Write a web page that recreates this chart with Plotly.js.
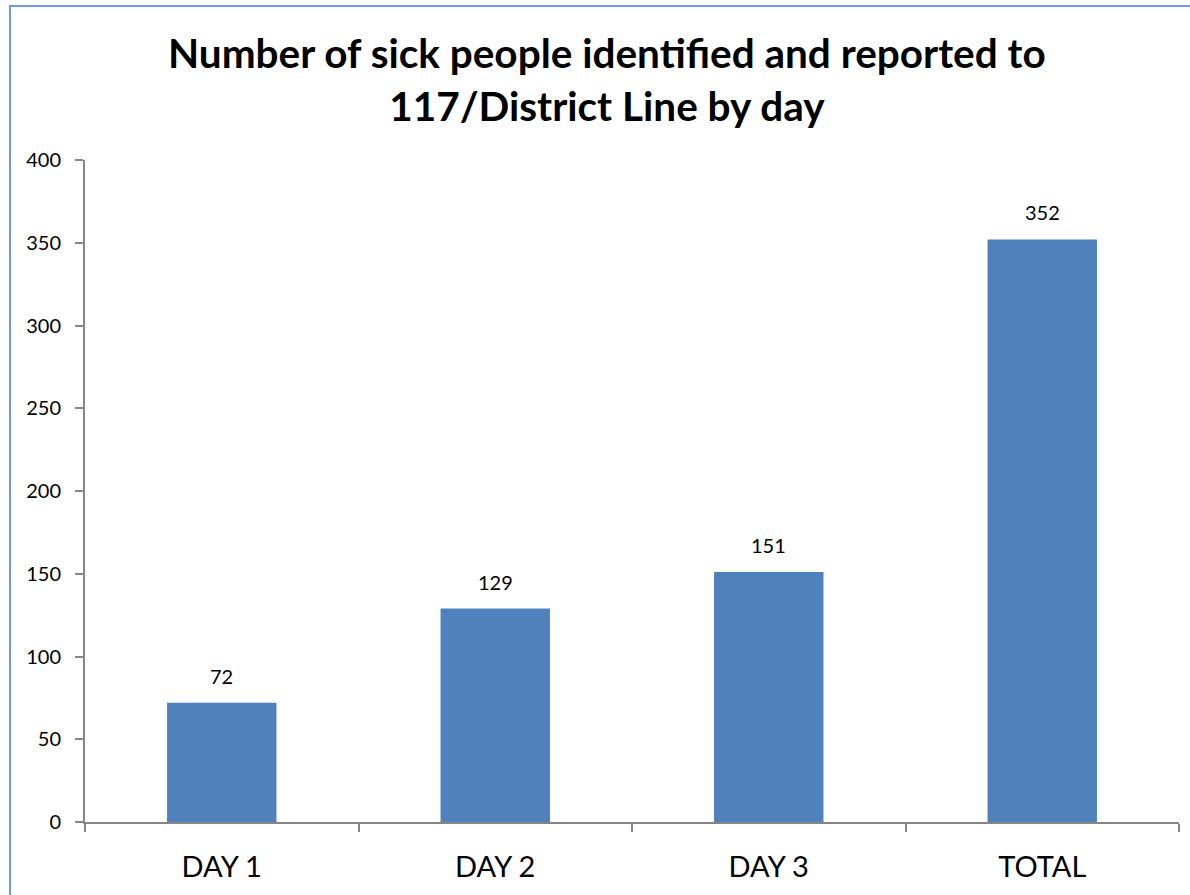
<!DOCTYPE html>
<html><head><meta charset="utf-8">
<script src="https://cdn.plot.ly/plotly-3.0.1.min.js"></script>
<style>
html,body{margin:0;padding:0;background:#fff;}
#wrap{position:relative;width:1190px;height:895px;overflow:hidden;}
#frame{position:absolute;left:9px;top:5px;width:1300px;height:1000px;border-left:2px solid #6f9bd9;border-top:2px solid #6f9bd9;pointer-events:none;}
#chart{position:absolute;left:0;top:0;width:1190px;height:895px;}
</style></head>
<body><div id="wrap"><div id="chart"></div><div id="frame"></div></div>
<script>
const categories = ["DAY 1", "DAY 2", "DAY 3", "TOTAL"];
const values = [72, 129, 151, 352];
const yTicks = [0, 50, 100, 150, 200, 250, 300, 350, 400];
const titleText = "Number of sick people identified and reported to<br>117/District Line by day";

const font = "Lato, 'Open Sans', sans-serif";
const labelAnnotations = categories.map((c, i) => ({
  x: c, y: values[i], xref: "x", yref: "y",
  text: String(values[i]), showarrow: false,
  yanchor: "bottom", yshift: 13,
  font: {family: font, size: 20, color: "#000"}
}));
const titleAnnotation = {
  xref: "paper", yref: "paper", x: 0.477, y: 1.122,
  xanchor: "center", yanchor: "middle", showarrow: false,
  text: titleText, align: "center",
  font: {family: font, size: 40.5, color: "#000", weight: "bold"}
};

Plotly.newPlot("chart", [{
  type: "bar",
  x: categories,
  y: values,
  marker: {color: "#4f81bd"},
  hoverinfo: "x+y"
}], {
  width: 1190, height: 895,
  margin: {l: 85, r: 11, t: 160, b: 73},
  paper_bgcolor: "rgba(0,0,0,0)", plot_bgcolor: "rgba(0,0,0,0)",
  bargap: 0.6,
  showlegend: false,
  annotations: [titleAnnotation].concat(labelAnnotations),
  xaxis: {
    showline: true, linecolor: "#868686", linewidth: 2,
    ticks: "outside", tickson: "boundaries", ticklen: 8, tickcolor: "#868686", tickwidth: 2,
    tickfont: {family: font, size: 29, color: "#000"},
    ticklabelstandoff: 18,
    showgrid: false, zeroline: false
  },
  yaxis: {
    range: [0, 400], tickvals: yTicks, ticktext: yTicks.map(String),
    showline: true, linecolor: "#868686", linewidth: 2,
    ticks: "outside", ticklen: 8, tickcolor: "#868686", tickwidth: 2,
    tickfont: {family: font, size: 20, color: "#000"},
    ticklabelstandoff: 10,
    showgrid: false, zeroline: false
  }
}, {displayModeBar: false, staticPlot: true});
</script></body></html>
